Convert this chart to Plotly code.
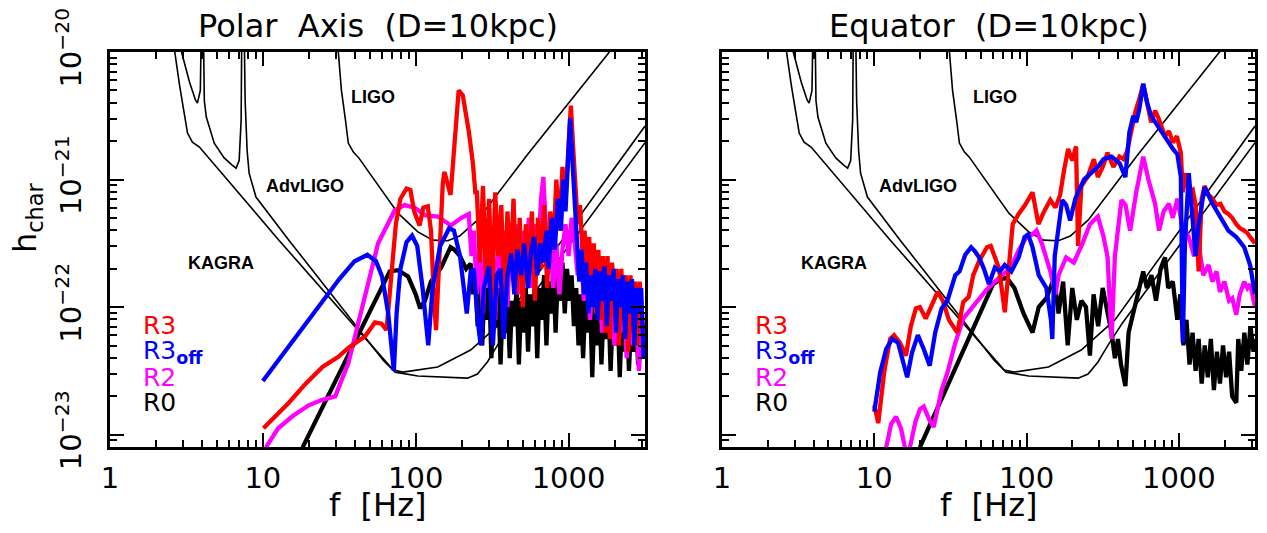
import plotly.graph_objects as go

# ---------------- detector noise curves (log10 f [Hz], log10 h_char) ----------------
kagra_logf = [0.40, 0.422, 0.455, 0.487, 0.507, 0.539, 0.585, 1.105, 1.494, 1.865, 2.014, 2.209,
              2.339, 2.404, 2.469, 2.534, 2.632, 3.5]
kagra_logh = [-19.8, -20.0, -20.26, -20.49, -20.635, -20.706, -20.745, -21.475, -22.008, -22.51,
              -22.54, -22.55, -22.557, -22.525, -22.43, -22.30, -22.12, -20.71]

advligo_logf = [0.45, 0.468, 0.52, 0.559, 0.572, 0.591, 0.601, 0.608, 0.617, 0.63, 0.682, 0.747,
                0.799, 0.825, 0.845, 0.858, 0.864, 0.874, 0.884, 0.897, 0.91, 0.955, 1.17, 1.787,
                1.852, 1.917, 2.144, 2.359, 2.58, 3.5]
advligo_logh = [-19.8, -20.0, -20.235, -20.376, -20.40, -20.30, -19.5, -19.5, -20.38, -20.51,
                -20.714, -20.83, -20.886, -20.91, -20.85, -20.53, -19.5, -19.5, -20.38, -20.77,
                -20.95, -21.137, -21.475, -22.416, -22.494, -22.51, -22.47, -22.337, -22.10, -20.58]

ligo_logf = [1.48, 1.494, 1.514, 1.54, 1.559, 1.592, 1.624, 1.884, 2.014, 2.112, 2.209, 2.287,
             2.404, 2.729, 3.262, 3.3]
ligo_logh = [-19.8, -20.0, -20.30, -20.53, -20.714, -20.784, -20.824, -21.263, -21.41, -21.475,
             -21.48, -21.443, -21.318, -20.808, -20.0, -19.95]

# ---------------- Polar axis panel ----------------
pol_r0_logf = [1.26, 1.83, 1.883, 1.95, 2.0, 2.029, 2.06, 2.1, 2.166, 2.228, 2.253, 2.29, 2.33,
               2.36, 2.375, 2.39, 2.405, 2.42, 2.435, 2.45, 2.465, 2.48, 2.495, 2.51, 2.525, 2.54,
               2.555, 2.57, 2.585, 2.6, 2.615, 2.63, 2.645, 2.66, 2.675, 2.69, 2.705, 2.72, 2.735,
               2.75, 2.765, 2.78, 2.795, 2.81, 2.825, 2.84, 2.855, 2.87, 2.885, 2.9, 2.915, 2.93,
               2.945, 2.96, 2.975, 2.99, 3.005, 3.02, 3.035, 3.05, 3.065, 3.08, 3.095, 3.11, 3.125,
               3.14, 3.155, 3.17, 3.185, 3.2, 3.215, 3.23, 3.245, 3.26, 3.275, 3.29, 3.305, 3.32,
               3.335, 3.35, 3.365, 3.38, 3.395, 3.41, 3.425, 3.44, 3.455, 3.47, 3.485, 3.5]
pol_r0_logh = [-23.10, -21.72, -21.71, -21.76, -21.90, -22.01, -21.95, -21.80, -21.69, -21.53,
               -21.55, -21.60, -21.70,
               -21.66, -21.90, -21.75, -22.15, -21.80, -22.30, -21.85, -22.10, -21.80, -22.40,
               -21.90, -22.15, -21.85, -22.45, -21.95, -22.20, -21.90, -22.40, -21.95, -22.15,
               -21.85, -22.45, -21.95, -22.20, -21.85, -22.35, -21.90, -22.15, -21.80, -22.40,
               -21.85, -22.10, -21.75, -22.30, -21.80, -22.05, -21.70, -22.20, -21.75, -21.95,
               -21.65, -22.05, -21.70, -21.95, -21.75, -22.15, -21.85, -22.30, -21.90, -22.40,
               -21.95, -22.20, -21.90, -22.55, -22.00, -22.30, -21.95, -22.45, -22.00, -22.25,
               -21.95, -22.50, -22.05, -22.30, -22.00, -22.55, -22.05, -22.35, -22.00, -22.50,
               -22.10, -22.35, -22.05, -22.45, -22.10, -22.40, -22.20]

pol_r2_logf = [1.02, 1.1, 1.2, 1.3, 1.38, 1.473, 1.559, 1.668, 1.754, 1.863, 1.928, 1.993, 2.06,
               2.144, 2.23, 2.30, 2.347,
               2.365, 2.38, 2.40, 2.42, 2.44, 2.46, 2.48, 2.50, 2.52, 2.54, 2.56, 2.58, 2.60, 2.62,
               2.64, 2.66, 2.68, 2.70, 2.72, 2.74, 2.76, 2.78, 2.80, 2.82, 2.835, 2.85, 2.865, 2.88,
               2.90, 2.92, 2.94, 2.96, 2.98, 3.00, 3.02, 3.04, 3.06, 3.08, 3.10, 3.12, 3.14, 3.16,
               3.18, 3.20, 3.22, 3.24, 3.26, 3.28, 3.30, 3.32, 3.34, 3.36, 3.38, 3.40, 3.42, 3.44,
               3.46, 3.48, 3.50]
pol_r2_logh = [-23.10, -22.95, -22.85, -22.77, -22.73, -22.70, -22.44, -21.92, -21.50, -21.24,
               -21.20, -21.22, -21.28, -21.29, -21.36, -21.30, -21.27,
               -21.60, -21.40, -21.90, -21.50, -22.05, -21.45, -21.85, -21.40, -22.10, -21.50,
               -21.80, -21.40, -22.00, -21.45, -21.75, -21.35, -21.90, -21.40, -21.70, -21.30,
               -21.85, -21.35, -21.60, -21.15, -20.98, -21.30, -21.70, -21.45, -21.85, -21.50,
               -21.90, -21.55, -21.35, -21.60, -21.30, -21.50, -21.75, -21.55, -21.95, -21.70,
               -22.10, -21.75, -22.00, -21.80, -22.20, -21.85, -22.10, -21.90, -22.30, -21.95,
               -22.20, -21.95, -22.40, -22.00, -22.30, -22.05, -22.50, -22.10, -22.35]

pol_r3_logf = [1.004, 1.17, 1.28, 1.39, 1.494, 1.559, 1.668, 1.733, 1.776, 1.808, 1.815, 1.84,
               1.87, 1.90, 1.94, 1.965, 1.99, 2.025, 2.05, 2.079, 2.10, 2.12, 2.133, 2.155, 2.177,
               2.188, 2.228, 2.281, 2.308, 2.347, 2.374, 2.39,
               2.40, 2.42, 2.44, 2.46, 2.48, 2.50, 2.52, 2.54, 2.56, 2.58, 2.60, 2.62, 2.64, 2.66,
               2.68, 2.70, 2.72, 2.74, 2.76, 2.78, 2.80, 2.82, 2.84, 2.86, 2.88, 2.90, 2.92, 2.94,
               2.96, 2.98, 3.0,
               3.015, 3.03, 3.045, 3.06, 3.075, 3.09, 3.105, 3.12, 3.135, 3.15, 3.165, 3.18, 3.195,
               3.21, 3.225, 3.24, 3.255, 3.27, 3.285, 3.30, 3.315, 3.33, 3.345, 3.36, 3.375, 3.39,
               3.405, 3.42, 3.435, 3.45, 3.465, 3.48, 3.5]
pol_r3_logh = [-22.95, -22.75, -22.60, -22.47, -22.39, -22.32, -22.23, -22.12, -22.13, -22.18,
               -22.10, -21.75, -21.35, -21.15, -21.07, -21.08, -21.25, -21.36, -21.22, -21.21,
               -21.40, -21.95, -22.18, -21.60, -21.03, -20.94, -21.12, -20.30, -20.34, -20.62,
               -20.87, -21.10,
               -21.10, -21.65, -21.05, -21.80, -21.15, -21.95, -21.10, -21.60, -21.20, -22.00,
               -21.25, -21.70, -21.15, -21.90, -21.30, -22.00, -21.35, -21.75, -21.25, -21.95,
               -21.30, -21.70, -21.20, -21.85, -21.25, -21.55, -21.00, -21.40, -20.90, -21.15,
               -20.70,
               -20.42, -20.75, -21.10, -21.35, -21.20, -21.55, -21.40, -21.80, -21.45, -21.90,
               -21.50, -22.05, -21.55, -22.10, -21.60, -22.20, -21.60, -22.25, -21.65, -22.05,
               -21.70, -22.30, -21.70, -22.10, -21.75, -22.35, -21.75, -22.20, -21.80, -22.30,
               -21.80, -22.10, -22.40]

pol_r3off_logf = [1.0, 1.1, 1.2, 1.3, 1.4, 1.5, 1.6, 1.684, 1.74, 1.78, 1.82, 1.845, 1.857, 1.875,
                  1.9, 1.94, 1.976, 2.01, 2.045, 2.082, 2.11, 2.16, 2.22, 2.25, 2.29, 2.334, 2.36,
                  2.38, 2.405, 2.425, 2.445, 2.48, 2.505, 2.53, 2.555, 2.575, 2.6, 2.625, 2.645,
                  2.665, 2.69, 2.71, 2.735, 2.755, 2.775, 2.795, 2.815, 2.835, 2.855, 2.87, 2.89,
                  2.91, 2.93, 2.95, 2.965, 2.98, 2.995, 3.01, 3.025, 3.04, 3.055, 3.07, 3.085, 3.1,
                  3.115, 3.13, 3.145, 3.16, 3.175, 3.19, 3.205, 3.22, 3.235, 3.25, 3.265, 3.28,
                  3.295, 3.31, 3.325, 3.34, 3.355, 3.37, 3.385, 3.4, 3.415, 3.43, 3.445, 3.46,
                  3.475, 3.49]
pol_r3off_logh = [-22.58, -22.42, -22.25, -22.09, -21.94, -21.78, -21.64, -21.59, -21.64, -21.76,
                  -22.05, -22.35, -22.50, -22.05, -21.70, -21.49, -21.44, -21.52, -21.85, -22.30,
                  -21.85, -21.52, -21.38, -21.40, -21.60, -22.05, -21.72, -21.70, -22.10, -22.30,
                  -21.85, -21.68, -22.30, -21.75, -21.70, -22.25, -21.75, -21.58, -21.90, -21.55,
                  -21.75, -21.50, -21.85, -21.55, -21.45, -21.75, -21.50, -21.65, -21.40, -21.70,
                  -21.30, -21.55, -21.15, -21.40, -21.00, -21.25, -20.80, -20.52, -20.85, -21.20,
                  -21.45, -21.80, -21.55, -21.90, -21.65, -22.05, -21.75, -22.00, -21.70, -22.10,
                  -21.72, -21.95, -21.68, -22.15, -21.75, -21.95, -21.70, -22.20, -21.78, -22.00,
                  -21.75, -22.25, -21.80, -22.05, -21.78, -22.30, -21.85, -22.05, -21.85, -22.40]

# ---------------- Equator panel ----------------
eq_r0_logf = [1.299, 1.78, 1.83, 1.87, 1.92, 1.98, 2.039, 2.08, 2.13, 2.182, 2.21, 2.24, 2.27,
              2.30, 2.33, 2.36, 2.39, 2.416, 2.44, 2.47, 2.50, 2.53, 2.558, 2.58, 2.60, 2.62,
              2.649, 2.67, 2.70, 2.73, 2.766, 2.79, 2.82, 2.85, 2.88, 2.909, 2.93, 2.96, 2.99,
              3.01, 3.03, 3.05, 3.07, 3.09, 3.11, 3.13, 3.15, 3.17, 3.19, 3.21, 3.23, 3.25, 3.27,
              3.29, 3.31, 3.33, 3.35, 3.377, 3.39, 3.41, 3.43, 3.45, 3.47, 3.49, 3.5]
eq_r0_logh = [-23.10, -21.82, -21.78, -21.77, -21.85, -22.05, -22.20, -22.00, -21.93, -21.77,
              -22.05, -21.80, -22.30, -21.85, -22.10, -21.95, -22.00, -22.38, -21.90, -22.15,
              -21.85, -22.05, -22.20, -22.40, -22.25, -22.45, -22.62, -22.20, -22.05, -21.90,
              -21.72, -21.85, -21.75, -21.95, -21.70, -21.61, -21.85, -21.80, -22.10, -21.90,
              -22.30, -22.10, -22.45, -22.20, -22.50, -22.25, -22.60, -22.30, -22.55, -22.25,
              -22.65, -22.35, -22.60, -22.30, -22.55, -22.35, -22.70, -22.75, -22.25, -22.50,
              -22.20, -22.45, -22.15, -22.35, -22.25]

eq_r2_logf = [1.078, 1.11, 1.143, 1.175, 1.21, 1.234, 1.27, 1.30, 1.325, 1.36, 1.39, 1.42, 1.442,
              1.481, 1.532, 1.584, 1.636, 1.688, 1.74, 1.792, 1.84, 1.896, 1.95, 2.0, 2.039,
              2.065, 2.10, 2.156, 2.19, 2.21, 2.26, 2.31, 2.364, 2.416, 2.468, 2.506, 2.532,
              2.558, 2.58, 2.623, 2.65, 2.68, 2.72, 2.766, 2.80, 2.844, 2.87, 2.90, 2.935, 2.96,
              2.99, 3.02, 3.065, 3.10, 3.13, 3.16, 3.195, 3.22, 3.247, 3.27, 3.299, 3.33, 3.351,
              3.377, 3.40, 3.429, 3.45, 3.468, 3.5]
eq_r2_logh = [-23.10, -22.92, -22.86, -22.95, -23.15, -23.10, -22.90, -22.80, -22.78, -22.88,
              -22.94, -22.75, -22.65, -22.51, -22.28, -22.09, -22.01, -21.93, -21.86, -21.80,
              -21.75, -21.69, -21.55, -21.45, -21.43, -21.40, -21.50, -21.72, -21.90, -21.75,
              -21.61, -21.65, -21.51, -21.35, -21.29, -21.45, -21.61, -22.25, -21.60, -21.16,
              -21.20, -21.40, -21.10, -20.82, -21.00, -21.19, -21.40, -21.25, -21.19, -21.30,
              -21.15, -21.35, -21.45, -21.60, -21.50, -21.75, -21.67, -21.80, -21.72, -21.88,
              -21.80, -21.95, -21.93, -22.06, -21.90, -21.80, -21.85, -21.82, -22.00]

eq_r3_logf = [1.0, 1.026, 1.065, 1.104, 1.13, 1.169, 1.208, 1.24, 1.273, 1.299, 1.338, 1.38,
              1.416, 1.45, 1.49, 1.545, 1.584, 1.62, 1.65, 1.688, 1.74, 1.765, 1.79, 1.82, 1.857,
              1.88, 1.909, 1.948, 1.99, 2.039, 2.078, 2.115, 2.156, 2.19, 2.22, 2.247, 2.273, 2.30,
              2.325, 2.338, 2.36, 2.40, 2.442, 2.468, 2.50, 2.532, 2.57, 2.61, 2.636, 2.66, 2.688,
              2.714, 2.74, 2.766, 2.792, 2.818, 2.844, 2.87, 2.909, 2.935, 2.961, 2.987, 3.013,
              3.026, 3.039, 3.065, 3.091, 3.11, 3.13, 3.15, 3.169, 3.195, 3.221, 3.247, 3.273,
              3.30, 3.325, 3.35, 3.377, 3.40, 3.429, 3.45, 3.468, 3.5]
eq_r3_logh = [-22.77, -22.91, -22.51, -22.25, -22.22, -22.28, -22.38, -22.15, -22.01, -22.00,
              -22.09, -21.98, -21.88, -21.95, -22.10, -22.20, -21.96, -21.92, -21.75, -21.64,
              -21.53, -21.52, -21.60, -21.70, -22.04, -21.70, -21.35, -21.27, -21.20, -21.10,
              -21.35, -21.25, -21.16, -21.22, -21.12, -20.92, -20.76, -20.85, -20.74, -21.52,
              -21.05, -20.98, -20.84, -20.98, -20.90, -20.79, -20.90, -20.82, -20.84, -20.78,
              -20.63, -20.47, -20.37, -20.25, -20.40, -20.55, -20.46, -20.53, -20.66, -20.62,
              -20.71, -20.66, -20.79, -21.10, -20.95, -21.10, -21.08, -21.20, -21.72, -21.15,
              -21.05, -21.12, -21.15, -21.20, -21.19, -21.25, -21.27, -21.30, -21.35, -21.38,
              -21.40, -21.42, -21.45, -21.50]

eq_r3off_logf = [1.0, 1.039, 1.078, 1.117, 1.156, 1.195, 1.216, 1.247, 1.286, 1.325, 1.364, 1.40,
                 1.442, 1.48, 1.506, 1.532, 1.56, 1.597, 1.636, 1.66, 1.688, 1.72, 1.753, 1.792,
                 1.825, 1.857, 1.90, 1.948, 1.987, 2.01, 2.039, 2.08, 2.13, 2.16, 2.169, 2.185,
                 2.234, 2.26, 2.286, 2.32, 2.377, 2.42, 2.468, 2.506, 2.558, 2.61, 2.649, 2.675,
                 2.701, 2.72, 2.74, 2.766, 2.792, 2.818, 2.86, 2.909, 2.961, 2.99, 3.013, 3.026,
                 3.04, 3.065, 3.09, 3.11, 3.13, 3.169, 3.221, 3.273, 3.325, 3.377, 3.429, 3.468,
                 3.5]
eq_r3off_logh = [-22.82, -22.51, -22.33, -22.25, -22.28, -22.46, -22.55, -22.36, -22.22, -22.33,
                 -22.46, -22.20, -22.01, -21.95, -21.85, -21.75, -21.72, -21.59, -21.53, -21.56,
                 -21.61, -21.70, -21.82, -21.69, -21.72, -21.67, -21.72, -21.61, -21.45, -21.43,
                 -21.53, -21.75, -21.85, -22.10, -22.25, -21.60, -21.16, -21.20, -21.32, -21.15,
                 -21.00, -20.95, -20.90, -20.84, -20.82, -20.87, -20.98, -20.63, -20.50, -20.55,
                 -20.45, -20.25, -20.40, -20.50, -20.58, -20.66, -20.76, -20.80, -20.98, -22.28,
                 -21.50, -20.95, -21.30, -21.60, -21.35, -21.06, -21.19, -21.29, -21.40, -21.45,
                 -21.53, -21.67, -21.90]

# ---------------- axis / label texts ----------------
x_tick_vals = [1, 10, 100, 1000]
x_tick_text = ["1", "10", "100", "1000"]
y_tick_vals = [1e-23, 1e-22, 1e-21, 1e-20]
y_tick_text = ["10<sup>\u221223</sup>", "10<sup>\u221222</sup>", "10<sup>\u221221</sup>", "10<sup>\u221220</sup>"]
panel_titles = ["Polar\u00a0 Axis\u00a0 (D=10kpc)", "Equator\u00a0 (D=10kpc)"]
series_names = ["R3", "R3<sub><b>off</b></sub>", "R2", "R0"]
series_colors = ["#ff0000", "#0000ff", "#ff00ff", "#000000"]
detector_names = ["LIGO", "AdvLIGO", "KAGRA"]
detector_pos = [  # (log10 f, log10 h) of label centres, per panel
    [(1.72, -20.352), (1.275, -21.05), (0.726, -21.652)],
    [(1.79, -20.352), (1.285, -21.05), (0.735, -21.652)],
]

fig = go.Figure()


def add_line(lx, ly, color, width, xa, ya):
    fig.add_trace(go.Scatter(x=[10 ** v for v in lx], y=[10 ** v for v in ly], mode="lines",
                             line=dict(color=color, width=width), xaxis=xa, yaxis=ya,
                             showlegend=False, hoverinfo="skip"))


panels = [
    ("x", "y", pol_r0_logf, pol_r0_logh, pol_r2_logf, pol_r2_logh, pol_r3_logf, pol_r3_logh,
     pol_r3off_logf, pol_r3off_logh),
    ("x2", "y2", eq_r0_logf, eq_r0_logh, eq_r2_logf, eq_r2_logh, eq_r3_logf, eq_r3_logh,
     eq_r3off_logf, eq_r3off_logh),
]
for xa, ya, r0x, r0y, r2x, r2y, r3x, r3y, rox, roy in panels:
    add_line(kagra_logf, kagra_logh, "black", 1.6, xa, ya)
    add_line(advligo_logf, advligo_logh, "black", 1.6, xa, ya)
    add_line(ligo_logf, ligo_logh, "black", 1.6, xa, ya)
    add_line(r0x, r0y, series_colors[3], 4.3, xa, ya)
    add_line(r2x, r2y, series_colors[2], 4.3, xa, ya)
    add_line(r3x, r3y, series_colors[0], 4.3, xa, ya)
    add_line(rox, roy, series_colors[1], 4.3, xa, ya)

W, H = 1267, 533
OFF = 8  # page offset of the figure inside the browser window
x_domains = [[(110 - OFF) / W, (645 - OFF) / W], [(722 - OFF) / W, (1255 - OFF) / W]]
y_domain = [(H - 447 + OFF) / H, (H - 52 + OFF) / H]

minor_x = [m * d for d in (1, 10, 100) for m in range(2, 10)] + [2000, 3000]
minor_y = [m * d for d in (1e-24, 1e-23, 1e-22, 1e-21) for m in range(2, 10)]

tickfont = dict(family="DejaVu Sans", size=29, color="black")


def xaxis_cfg(dom, anchor):
    return dict(type="log", range=[0, 3.5], domain=dom, anchor=anchor, showgrid=False,
                automargin=False, ticklabeloverflow="allow",
                zeroline=False, showline=True, linecolor="black", linewidth=3, mirror="allticks",
                ticks="inside", ticklen=14, tickwidth=2, tickcolor="black",
                tickvals=x_tick_vals, ticktext=x_tick_text, tickfont=tickfont,
                ticklabelstandoff=3,
                minor=dict(ticks="inside", ticklen=7, tickwidth=2, tickcolor="black",
                           tickvals=minor_x, showgrid=False))


def yaxis_cfg(anchor, labels):
    return dict(type="log", range=[-23.097, -19.9995], domain=y_domain, anchor=anchor,
                showgrid=False, automargin=False, ticklabeloverflow="allow",
                zeroline=False, showline=True, linecolor="black", linewidth=3, mirror="allticks",
                ticks="inside", ticklen=14, tickwidth=2, tickcolor="black",
                tickvals=y_tick_vals, ticktext=y_tick_text, tickfont=tickfont, tickangle=-90,
                showticklabels=labels, ticklabelstandoff=14,
                minor=dict(ticks="inside", ticklen=7, tickwidth=2, tickcolor="black",
                           tickvals=minor_y, showgrid=False))


annotations = []
big = dict(family="DejaVu Sans", size=32, color="black")
for i, (xr, yr) in enumerate([("x", "y"), ("x2", "y2")]):
    dom = x_domains[i]
    cx = (dom[0] + dom[1]) / 2
    annotations.append(dict(text=panel_titles[i], x=cx, y=(H - 26 + OFF) / H, xref="paper",
                            yref="paper", showarrow=False, font=big, xanchor="center",
                            yanchor="middle"))
    annotations.append(dict(text="f\u00a0 [Hz]", x=cx, y=(H - 505 + OFF) / H, xref="paper",
                            yref="paper", showarrow=False, font=big, xanchor="center",
                            yanchor="middle"))
    # detector labels (log10 coordinates)
    for name, (lxv, lyv) in zip(detector_names, detector_pos[i]):
        annotations.append(dict(text=name, x=lxv, y=lyv, xref=xr, yref=yr, showarrow=False,
                                font=dict(family="Liberation Sans", size=18, color="black",
                                          weight="bold"),
                                xanchor="center", yanchor="middle"))
    # series legend
    for name, col, lyv in zip(series_names, series_colors, [-22.146, -22.349, -22.553, -22.749]):
        annotations.append(dict(text=name, x=0.203, y=lyv, xref=xr, yref=yr, showarrow=False,
                                font=dict(family="DejaVu Sans", size=25, color=col),
                                xanchor="left", yanchor="middle"))

annotations.append(dict(text="h<sub>char</sub>", x=(27 - OFF) / W, y=(H - 218 + OFF) / H,
                        xref="paper", yref="paper", showarrow=False, font=big, textangle=-90,
                        xanchor="center", yanchor="middle"))

fig.update_layout(
    template="none",
    width=W, height=H, margin=dict(l=0, r=0, t=0, b=0, autoexpand=False),
    paper_bgcolor="white", plot_bgcolor="white", showlegend=False, hovermode=False,
    xaxis=xaxis_cfg(x_domains[0], "y"), yaxis=yaxis_cfg("x", True),
    xaxis2=xaxis_cfg(x_domains[1], "y2"), yaxis2=yaxis_cfg("x2", False),
    annotations=annotations,
)

fig.write_html("out.html")
